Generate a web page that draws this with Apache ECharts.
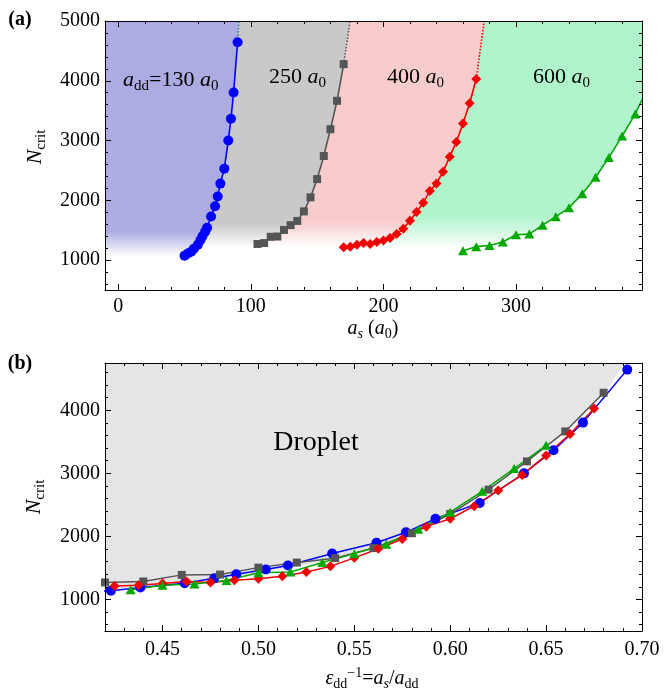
<!DOCTYPE html>
<html>
<head>
<meta charset="utf-8">
<script src="https://cdn.jsdelivr.net/npm/echarts@6/dist/echarts.min.js"></script>
<style>
  html, body { margin: 0; padding: 0; background: #fff; }
  #chart { width: 664px; height: 692px; }
</style>
</head>
<body>
<div id="chart"></div>
<script>
// Critical atom number N_crit versus scattering length a_s (in units of a0),
// one series per dipolar length a_dd.
const addValues = [130, 250, 400, 600];

const blueAs = [50, 52.5, 55, 57, 60, 62, 63.5, 65.5, 67, 70, 73, 75, 77, 80, 83, 85, 87, 90];
const blueN  = [1075, 1110, 1140, 1190, 1257, 1335, 1400, 1475, 1540, 1730, 1900, 2065, 2280, 2530, 3000, 3365, 3805, 4645];

const grayAs = [105, 110, 115, 120, 125, 130, 135, 140, 145, 150, 155, 160, 165, 170];
const grayN  = [1270, 1285, 1390, 1395, 1505, 1585, 1655, 1815, 2050, 2355, 2742, 3190, 3665, 4278];

const redAs = [170, 175, 180, 185, 190, 195, 200, 205, 210, 215, 220, 225, 230, 235, 240, 245, 250, 255, 260, 265, 270];
const redN  = [1215, 1225, 1255, 1285, 1268, 1305, 1330, 1370, 1435, 1525, 1660, 1805, 1960, 2155, 2280, 2480, 2730, 2975, 3285, 3625, 4030];

const greenAs = [260, 270, 280, 290, 300, 310, 320, 330, 340, 350, 360, 370, 380, 390];
const greenN  = [1155, 1225, 1245, 1302, 1425, 1435, 1585, 1727, 1875, 2112, 2385, 2715, 3075, 3445];

// Continuation of each boundary beyond the last computed point
const blueTail  = [[90, 4645], [91, 5000]];
const grayTail  = [[170, 4278], [174.8, 5000]];
const redTail   = [[270, 4030], [276, 5000]];
const greenTail = [[390, 3445], [395, 3680]];

// Edge of the droplet region in panel (b), as a_s/a_dd and N
const dropletEdgeX = [0.42, 0.44, 0.46, 0.48, 0.50, 0.52, 0.54, 0.56, 0.58, 0.60, 0.62, 0.64, 0.66, 0.681, 0.6907];
const dropletEdgeN = [1150, 1215, 1265, 1330, 1420, 1520, 1650, 1810, 2050, 2370, 2740, 3190, 3650, 4290, 4750];

// Axis ranges
const A_X = [-10, 395], A_Y = [500, 5000];
const B_X = [0.42, 0.70], B_Y = [500, 4750];

const SERIF = 'Liberation Serif';
const zip = (xs, ys) => xs.map((x, i) => [x, ys[i]]);

const sets = [
  { as: blueAs,  n: blueN,  add: addValues[0], color: '#0000ff', symbol: 'circle',   size: 10,      tail: blueTail,  tailColor: '#1b8a8a', fill: [172, 172, 226], fade: [1480, 1060] },
  { as: grayAs,  n: grayN,  add: addValues[1], color: '#555555', symbol: 'rect',     size: 8,       tail: grayTail,  tailColor: '#555555', fill: [201, 201, 201], fade: [1620, 1200] },
  { as: redAs,   n: redN,   add: addValues[2], color: '#f00000', symbol: 'diamond',  size: [10, 10], tail: redTail,   tailColor: '#f00000', fill: [248, 204, 204], fade: [1650, 1200] },
  { as: greenAs, n: greenN, add: addValues[3], color: '#00a800', symbol: 'triangle', size: [10, 9],  tail: greenTail, tailColor: '#00a800', fill: [176, 244, 204], fade: [1750, 1180] }
];

// Region outlines (in a_s, N) between neighbouring boundaries
function regionOutline(i) {
  const cur = zip(sets[i].as, sets[i].n);
  const curTop = sets[i].tail[1];
  if (i === 0) {
    return [[A_X[0], A_Y[1]], curTop].concat(cur.slice().reverse(), [[A_X[0], blueN[0]]]);
  }
  const prev = zip(sets[i - 1].as, sets[i - 1].n);
  const prevTop = sets[i - 1].tail[1];
  if (i === 3) {
    return [prevTop, [A_X[1], A_Y[1]], sets[i].tail[1]].concat(cur.slice().reverse(), prev);
  }
  return [prevTop, curTop].concat(cur.slice().reverse(), prev);
}

function frameAxis(gridIndex, position, range, step, showLabels, showMax, fmt, margin) {
  return {
    type: 'value', gridIndex, position, min: range[0], max: range[1],
    minInterval: step, maxInterval: step,
    axisLine: { show: true, onZero: false, lineStyle: { color: '#000', width: 1 } },
    axisTick: { show: true, inside: true, length: 6, lineStyle: { color: '#000', width: 1 } },
    minorTick: { show: true, splitNumber: 5, length: 3, lineStyle: { color: '#000', width: 1 } },
    splitLine: { show: false }, minorSplitLine: { show: false },
    axisLabel: {
      show: showLabels, showMinLabel: false, showMaxLabel: showMax,
      formatter: fmt, fontFamily: SERIF, fontSize: 20, color: '#000', margin: margin
    },
    z: 10
  };
}
const intFmt = v => String(Math.round(v));
const decFmt = v => v.toFixed(2);

const series = [];

// Panel (a): shaded regions
series.push({
  type: 'custom', xAxisIndex: 0, yAxisIndex: 0, silent: true, clip: true, z: 1,
  data: sets.map((s, i) => [i, 0]),
  renderItem(params, api) {
    const s = sets[params.dataIndex];
    const pts = regionOutline(params.dataIndex).map(p => api.coord(p));
    const y1 = api.coord([0, s.fade[0]])[1];
    const y2 = api.coord([0, s.fade[1]])[1];
    const c = s.fill.join(',');
    return {
      type: 'polygon',
      shape: { points: pts },
      style: {
        fill: new echarts.graphic.LinearGradient(0, y1, 0, y2, [
          { offset: 0, color: 'rgba(' + c + ',1)' },
          { offset: 1, color: 'rgba(' + c + ',0)' }
        ], true)
      }
    };
  }
});

// Panel (b): droplet region
series.push({
  type: 'line', xAxisIndex: 2, yAxisIndex: 2, silent: true, z: 1,
  data: zip(dropletEdgeX, dropletEdgeN), symbol: 'none',
  lineStyle: { width: 0 },
  areaStyle: { origin: 'end', color: '#e5e5e5', opacity: 1 }
});

sets.forEach(s => {
  // dotted continuation in (a)
  series.push({
    type: 'line', xAxisIndex: 0, yAxisIndex: 0, silent: true, z: 3, clip: true,
    data: s.tail, symbol: 'none',
    lineStyle: { color: s.tailColor, width: 1.6, type: s === sets[3] ? 'solid' : 'dotted' }
  });
  // curve in (a)
  series.push({
    type: 'line', xAxisIndex: 0, yAxisIndex: 0, silent: true, z: 4, clip: true,
    data: zip(s.as, s.n), symbol: s.symbol, symbolSize: s.size, showSymbol: true,
    lineStyle: { color: s.color, width: 1.6 },
    itemStyle: { color: s.color, borderWidth: 0 }
  });
  // same curve in (b), against a_s / a_dd
  series.push({
    type: 'line', xAxisIndex: 2, yAxisIndex: 2, silent: true, z: 4, clip: true,
    data: s.as.map((a, i) => [a / s.add, s.n[i]]), symbol: s.symbol, symbolSize: s.size, showSymbol: true,
    lineStyle: { color: s.color, width: 1.5 },
    itemStyle: { color: s.color, borderWidth: 0 }
  });
});

function rich(size) {
  const sub = Math.round(size * 0.68);
  const lh = Math.round(size * 1.25);
  const base = { fontFamily: SERIF, color: '#000' };
  return {
    r:  Object.assign({}, base, { fontSize: size, lineHeight: lh }),
    i:  Object.assign({}, base, { fontSize: size, lineHeight: lh, fontStyle: 'italic' }),
    s:  Object.assign({}, base, { fontSize: sub, lineHeight: sub, verticalAlign: 'bottom' }),
    si: Object.assign({}, base, { fontSize: sub, lineHeight: sub, verticalAlign: 'bottom', fontStyle: 'italic' }),
    p:  Object.assign({}, base, { fontSize: sub, lineHeight: sub, verticalAlign: 'top' })
  };
}
function label(text, x, y, size, align, rotation) {
  return {
    type: 'text', x, y, rotation: rotation || 0, z: 20, silent: true,
    style: { text, rich: rich(size), align: align || 'center', verticalAlign: 'middle' }
  };
}

const graphics = [
  { type: 'text', x: 20, y: 20, z: 20, style: { text: '(a)', font: 'bold 20px "Liberation Serif"', fill: '#000', align: 'center', verticalAlign: 'middle' } },
  { type: 'text', x: 20, y: 364, z: 20, style: { text: '(b)', font: 'bold 20px "Liberation Serif"', fill: '#000', align: 'center', verticalAlign: 'middle' } },
  label('{i|a}{s|dd}{r|=130 }{i|a}{s|0}', 123, 80, 22, 'left'),
  label('{r|250 }{i|a}{s|0}', 269, 77, 22, 'left'),
  label('{r|400 }{i|a}{s|0}', 387, 77, 22, 'left'),
  label('{r|600 }{i|a}{s|0}', 533, 77, 22, 'left'),
  { type: 'text', x: 316, y: 443, z: 20, style: { text: 'Droplet', font: '28px "Liberation Serif"', fill: '#000', align: 'center', verticalAlign: 'middle' } },
  label('{i|N}{s|crit}', 35, 147, 22, 'center', Math.PI / 2),
  label('{i|N}{s|crit}', 34, 497, 22, 'center', Math.PI / 2),
  label('{i|a}{si|s}{r| (}{i|a}{s|0}{r|)}', 373, 329, 20, 'center'),
  label('{i|ε}{s|dd}{p|−1}{r|=}{i|a}{si|s}{r|/}{i|a}{s|dd}', 372, 679, 20, 'center')
];

const chart = echarts.init(document.getElementById('chart'), null, { renderer: 'canvas' });
chart.setOption({
  animation: false,
  backgroundColor: '#fff',
  grid: [
    { left: 105, top: 21, width: 537, height: 269, outerBoundsMode: 'none' },
    { left: 105, top: 363, width: 537, height: 268, outerBoundsMode: 'none' }
  ],
  xAxis: [
    frameAxis(0, 'bottom', A_X, 100, true, false, intFmt, 7),
    frameAxis(0, 'top', A_X, 100, false, false, intFmt, 7),
    frameAxis(1, 'bottom', B_X, 0.05, true, true, decFmt, 9),
    frameAxis(1, 'top', B_X, 0.05, false, false, decFmt, 9)
  ],
  yAxis: [
    frameAxis(0, 'left', A_Y, 1000, true, true, intFmt, 5),
    frameAxis(0, 'right', A_Y, 1000, false, false, intFmt, 5),
    frameAxis(1, 'left', B_Y, 1000, true, false, intFmt, 5),
    frameAxis(1, 'right', B_Y, 1000, false, false, intFmt, 5)
  ],
  series,
  graphic: graphics
});
</script>
</body>
</html>
